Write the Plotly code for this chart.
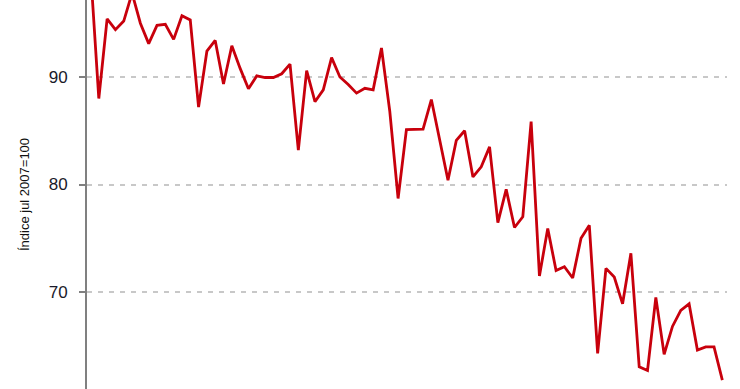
import plotly.graph_objects as go

# Monthly index, jul 2007 = 100
months = list(range(77))
index_values = [
    100.0, 88.0, 95.4, 94.4, 95.2, 97.8, 95.0, 93.1, 94.8, 94.9,
    93.5, 95.7, 95.3, 87.2, 92.4, 93.4, 89.35, 92.9, 90.8, 88.9,
    90.1, 89.95, 89.95, 90.3, 91.2, 83.2, 90.6, 87.7, 88.8, 91.8,
    90.0, 89.3, 88.5, 88.95, 88.8, 92.7, 86.8, 78.7, 85.1, 85.15,
    85.15, 87.9, 84.0, 80.4, 84.1, 85.0, 80.7, 81.65, 83.5, 76.45,
    79.55, 76.0, 77.0, 85.85, 71.5, 75.9, 72.0, 72.35, 71.3, 75.0,
    76.2, 64.3, 72.2, 71.4, 68.9, 73.6, 63.05, 62.7, 69.5, 64.2,
    66.8, 68.3, 68.9, 64.6, 64.9, 64.9, 61.8,
]
y_ticks = [70, 80, 90]
y_title = "Índice jul 2007=100"

fig = go.Figure()
fig.add_trace(go.Scatter(
    x=months, y=index_values, mode="lines",
    line=dict(color="#c8000c", width=2.8),
    hoverinfo="skip",
))

fig.update_layout(
    width=740, height=389,
    margin=dict(l=87, r=13, t=0, b=0),
    paper_bgcolor="white", plot_bgcolor="white",
    showlegend=False,
    font=dict(family="Liberation Sans, Arial, sans-serif", color="#222222"),
)
fig.update_xaxes(
    range=[-0.42, 76.56], showgrid=False, zeroline=False,
    showticklabels=False, ticks="", showline=False,
)
fig.update_yaxes(
    range=[60.98, 97.16], tickvals=y_ticks,
    showgrid=True, gridcolor="#c8c8c8", griddash="5px,6px", gridwidth=1.5,
    zeroline=False,
    showline=True, linecolor="#808080", linewidth=2,
    ticks="outside", ticklen=6, tickwidth=2, tickcolor="#808080",
    ticklabelstandoff=8,
    tickfont=dict(size=17, color="#1a1a2a"),
    title=dict(text=y_title, font=dict(size=13, color="#111111"), standoff=16),
)

fig.write_html("out.html")
